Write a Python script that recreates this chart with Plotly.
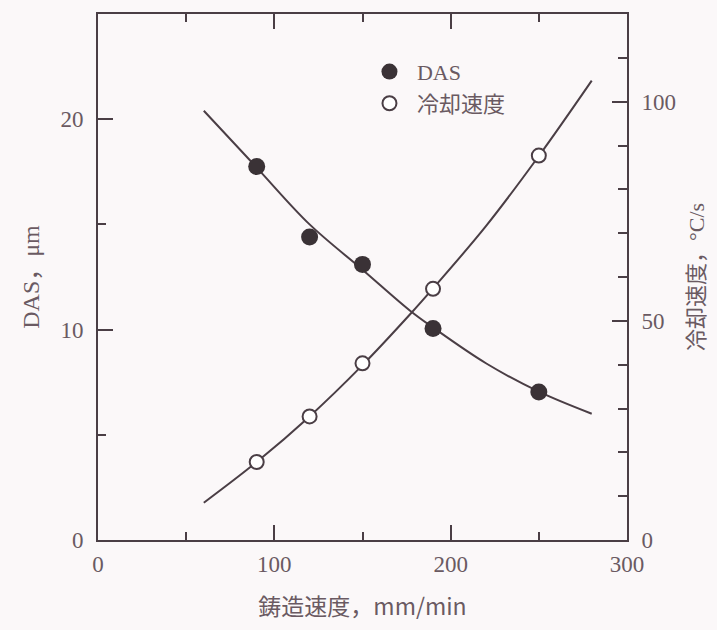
import plotly.graph_objects as go

# Measured data: casting speed vs. DAS and cooling rate
speed = [90, 120, 150, 190, 250]
das = [17.75, 14.4, 13.1, 10.05, 7.03]
cooling = [17.8, 28.2, 40.3, 57.3, 87.7]

# Smoothed trend lines through the measurements
curve_speed = [60, 90, 120, 150, 177, 190, 220, 250, 280]
das_curve = [20.4, 17.7, 15.0, 12.85, 10.9, 10.1, 8.4, 7.05, 6.0]
cooling_curve = [8.5, 17.8, 28.2, 39.9, 51.5, 57.4, 71.6, 87.6, 104.8]

INK = "#4a3e45"
TXT = "#6a5a62"
BG = "#fbf8f9"
SERIF = "Liberation Serif, Noto Sans CJK JP"
CJK = "Noto Sans CJK JP"

fig = go.Figure()

fig.add_trace(go.Scatter(
    x=curve_speed, y=das_curve, mode="lines", line=dict(color=INK, width=2, shape="spline"),
    showlegend=False, hoverinfo="skip"))
fig.add_trace(go.Scatter(
    x=curve_speed, y=cooling_curve, mode="lines", yaxis="y2",
    line=dict(color=INK, width=2, shape="spline"), showlegend=False, hoverinfo="skip"))
fig.add_trace(go.Scatter(
    x=speed, y=das, mode="markers", name="DAS",
    marker=dict(symbol="circle", size=17, color="#3a3236", line=dict(width=0))))
fig.add_trace(go.Scatter(
    x=speed, y=cooling, mode="markers", yaxis="y2", name="冷却速度",
    marker=dict(symbol="circle", size=14, color="white", line=dict(color=INK, width=2))))

axis_common = dict(
    showgrid=False, zeroline=False, showline=True, linecolor=INK, linewidth=2,
    ticks="inside", tickcolor=INK, tickwidth=2, ticklen=15,
    tickfont=dict(family=SERIF, size=23, color=TXT),
)

fig.update_layout(
    width=717, height=630,
    margin=dict(l=98, r=88, t=12, b=90),
    paper_bgcolor=BG, plot_bgcolor=BG,
    xaxis=dict(
        range=[0, 300], tick0=0, dtick=100, mirror="ticks", ticklabelstandoff=2,
        minor=dict(dtick=50, ticks="inside", ticklen=8, tickcolor=INK, tickwidth=2),
        title=dict(text="鋳造速度，mm/min", font=dict(family=CJK, size=23, color=TXT), standoff=23),
        **axis_common),
    yaxis=dict(
        range=[0, 25], tick0=0, dtick=10, ticklabelstandoff=8,
        minor=dict(dtick=5, ticks="inside", ticklen=8, tickcolor=INK, tickwidth=2),
        title=dict(text="DAS<span style=\"font-family:'Noto Sans CJK JP'\">，</span>μm",
                   font=dict(family=SERIF, size=24, color=TXT), standoff=14),
        **axis_common),
    yaxis2=dict(
        range=[0, 120], tick0=0, dtick=50, overlaying="y", side="right", ticklabelstandoff=8,
        minor=dict(dtick=10, ticks="inside", ticklen=9, tickcolor=INK, tickwidth=2),
        title=dict(text="冷却速度，<span style=\"font-family:'Liberation Serif'\">°C/s</span>",
                   font=dict(family=CJK, size=22, color=TXT), standoff=14),
        **axis_common),
    legend=dict(
        x=0.499, y=0.93, xanchor="left", yanchor="top", itemwidth=45,
        bgcolor="rgba(0,0,0,0)", font=dict(family=SERIF, size=22, color=TXT),
        itemsizing="trace", tracegroupgap=0,
    ),
)

fig.write_html("out.html")
